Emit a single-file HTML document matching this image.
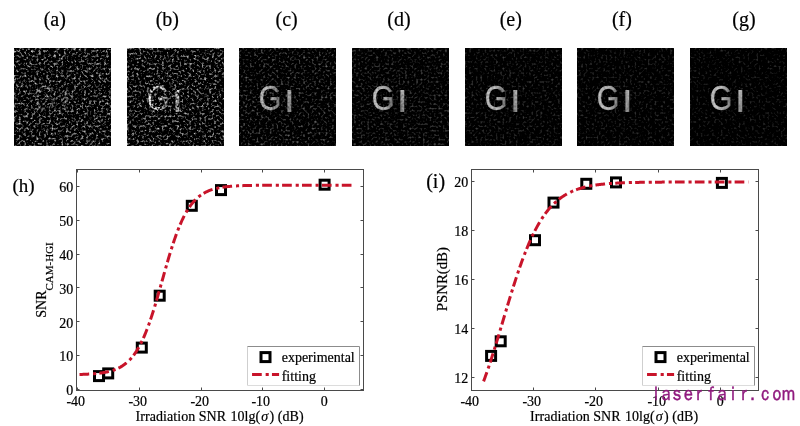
<!DOCTYPE html>
<html><head><meta charset="utf-8"><style>
html,body{margin:0;padding:0;background:#fff;}
body{width:800px;height:426px;position:relative;overflow:hidden;font-family:'Liberation Serif','Times New Roman',serif;}
.im{position:absolute;display:block;}
.lab{position:absolute;top:7px;width:60px;text-align:center;font-size:20px;line-height:24px;color:#000;-webkit-text-stroke:0.2px #000;}
.plots{position:absolute;left:0;top:0;}
</style></head><body>
<div class="lab" style="left:24.8px">(a)</div><div class="lab" style="left:137.3px">(b)</div><div class="lab" style="left:256.6px">(c)</div><div class="lab" style="left:369.0px">(d)</div><div class="lab" style="left:480.8px">(e)</div><div class="lab" style="left:591.9px">(f)</div><div class="lab" style="left:714.0px">(g)</div>
<svg class="im" style="left:14px;top:48px" width="97" height="98" viewBox="0 0 97 98">
<defs><filter id="f0" x="0" y="0" width="100%" height="100%" color-interpolation-filters="sRGB">
<feTurbulence type="fractalNoise" baseFrequency="0.4" numOctaves="2" seed="2" result="t"/>
<feColorMatrix in="t" type="matrix" values="2.2 0 0 0 -1.100  2.2 0 0 0 -1.100  2.2 0 0 0 -1.100  0 0 0 0 1"/>
<feGaussianBlur stdDeviation="0.5"/>
</filter>
<filter id="gb0" x="-20%" y="-20%" width="140%" height="140%" color-interpolation-filters="sRGB">
<feTurbulence type="fractalNoise" baseFrequency="0.45" numOctaves="1" seed="42" result="n"/>
<feColorMatrix in="n" type="matrix" values="0 0 0 0 1  0 0 0 0 1  0 0 0 0 1  3.0 0 0 0 -1.3" result="na"/>
<feComposite in="SourceGraphic" in2="na" operator="in"/>
<feGaussianBlur stdDeviation="0.7"/></filter>
<linearGradient id="li0" x1="0" x2="0" y1="0" y2="1"><stop offset="0" stop-color="rgb(178,178,178)"/><stop offset="1" stop-color="rgb(123,123,123)"/></linearGradient>
<linearGradient id="lg0" x1="0" x2="1" y1="0" y2="0"><stop offset="0" stop-color="rgb(178,178,178)"/><stop offset="0.5" stop-color="rgb(178,178,178)"/><stop offset="1" stop-color="rgb(103,103,103)"/></linearGradient>
</defs>
<rect width="97" height="98" fill="#000"/><rect width="97" height="98" filter="url(#f0)"/>
<g filter="url(#gb0)" font-family="'Liberation Sans',Arial,sans-serif"><text x="31" y="62.2" font-size="35" fill="url(#lg0)" stroke="url(#lg0)" stroke-width="0.3" text-anchor="middle" transform="translate(31 0) scale(0.83 1) translate(-31 0)">G</text><text x="50.4" y="63.3" font-size="30" fill="url(#li0)" stroke="url(#li0)" stroke-width="2" text-anchor="middle" transform="translate(50.4 0) scale(0.8 1) translate(-50.4 0)">I</text></g>
</svg><svg class="im" style="left:127px;top:48px" width="97" height="98" viewBox="0 0 97 98">
<defs><filter id="f1" x="0" y="0" width="100%" height="100%" color-interpolation-filters="sRGB">
<feTurbulence type="fractalNoise" baseFrequency="0.4" numOctaves="2" seed="5" result="t"/>
<feColorMatrix in="t" type="matrix" values="2.2 0 0 0 -1.122  2.2 0 0 0 -1.122  2.2 0 0 0 -1.122  0 0 0 0 1"/>
<feGaussianBlur stdDeviation="0.5"/>
</filter>
<filter id="gb1" x="-20%" y="-20%" width="140%" height="140%" color-interpolation-filters="sRGB">
<feTurbulence type="fractalNoise" baseFrequency="0.45" numOctaves="1" seed="45" result="n"/>
<feColorMatrix in="n" type="matrix" values="0 0 0 0 1  0 0 0 0 1  0 0 0 0 1  3.5 0 0 0 -1.15" result="na"/>
<feComposite in="SourceGraphic" in2="na" operator="in"/>
<feGaussianBlur stdDeviation="0.7"/></filter>
<linearGradient id="li1" x1="0" x2="0" y1="0" y2="1"><stop offset="0" stop-color="rgb(242,242,242)"/><stop offset="1" stop-color="rgb(160,160,160)"/></linearGradient>
<linearGradient id="lg1" x1="0" x2="1" y1="0" y2="0"><stop offset="0" stop-color="rgb(242,242,242)"/><stop offset="0.5" stop-color="rgb(242,242,242)"/><stop offset="1" stop-color="rgb(140,140,140)"/></linearGradient>
</defs>
<rect width="97" height="98" fill="#000"/><rect width="97" height="98" filter="url(#f1)"/>
<g filter="url(#gb1)" font-family="'Liberation Sans',Arial,sans-serif"><text x="31" y="62.2" font-size="35" fill="url(#lg1)" stroke="url(#lg1)" stroke-width="0.3" text-anchor="middle" transform="translate(31 0) scale(0.83 1) translate(-31 0)">G</text><text x="50.4" y="63.3" font-size="30" fill="url(#li1)" stroke="url(#li1)" stroke-width="2" text-anchor="middle" transform="translate(50.4 0) scale(0.8 1) translate(-50.4 0)">I</text></g>
</svg><svg class="im" style="left:239px;top:48px" width="97" height="98" viewBox="0 0 97 98">
<defs><filter id="f2" x="0" y="0" width="100%" height="100%" color-interpolation-filters="sRGB">
<feTurbulence type="fractalNoise" baseFrequency="0.45" numOctaves="1" seed="7" result="t"/>
<feColorMatrix in="t" type="matrix" values="1.4 0 0 0 -0.742  1.4 0 0 0 -0.742  1.4 0 0 0 -0.742  0 0 0 0 1"/>
<feGaussianBlur stdDeviation="0.6"/>
</filter>
<filter id="gb2" x="-20%" y="-20%" width="140%" height="140%" color-interpolation-filters="sRGB">
<feTurbulence type="fractalNoise" baseFrequency="0.45" numOctaves="1" seed="47" result="n"/>
<feColorMatrix in="n" type="matrix" values="0 0 0 0 1  0 0 0 0 1  0 0 0 0 1  1.2 0 0 0 0.3" result="na"/>
<feComposite in="SourceGraphic" in2="na" operator="in"/>
<feGaussianBlur stdDeviation="0.7"/></filter>
<linearGradient id="li2" x1="0" x2="0" y1="0" y2="1"><stop offset="0" stop-color="rgb(188,188,188)"/><stop offset="1" stop-color="rgb(129,129,129)"/></linearGradient>
<linearGradient id="lg2" x1="0" x2="1" y1="0" y2="0"><stop offset="0" stop-color="rgb(188,188,188)"/><stop offset="0.5" stop-color="rgb(188,188,188)"/><stop offset="1" stop-color="rgb(109,109,109)"/></linearGradient>
</defs>
<rect width="97" height="98" fill="#000"/><rect width="97" height="98" filter="url(#f2)"/>
<g filter="url(#gb2)" font-family="'Liberation Sans',Arial,sans-serif"><text x="31" y="62.2" font-size="35" fill="url(#lg2)" stroke="url(#lg2)" stroke-width="0.3" text-anchor="middle" transform="translate(31 0) scale(0.83 1) translate(-31 0)">G</text><text x="50.4" y="63.3" font-size="30" fill="url(#li2)" stroke="url(#li2)" stroke-width="2" text-anchor="middle" transform="translate(50.4 0) scale(0.8 1) translate(-50.4 0)">I</text></g>
</svg><svg class="im" style="left:352px;top:48px" width="97" height="98" viewBox="0 0 97 98">
<defs><filter id="f3" x="0" y="0" width="100%" height="100%" color-interpolation-filters="sRGB">
<feTurbulence type="fractalNoise" baseFrequency="0.45" numOctaves="1" seed="11" result="t"/>
<feColorMatrix in="t" type="matrix" values="0.95 0 0 0 -0.494  0.95 0 0 0 -0.494  0.95 0 0 0 -0.494  0 0 0 0 1"/>
<feGaussianBlur stdDeviation="0.7"/>
</filter>
<filter id="gb3" x="-20%" y="-20%" width="140%" height="140%" color-interpolation-filters="sRGB">
<feTurbulence type="fractalNoise" baseFrequency="0.45" numOctaves="1" seed="51" result="n"/>
<feColorMatrix in="n" type="matrix" values="0 0 0 0 1  0 0 0 0 1  0 0 0 0 1  0.9 0 0 0 0.45" result="na"/>
<feComposite in="SourceGraphic" in2="na" operator="in"/>
<feGaussianBlur stdDeviation="0.7"/></filter>
<linearGradient id="li3" x1="0" x2="0" y1="0" y2="1"><stop offset="0" stop-color="rgb(193,193,193)"/><stop offset="1" stop-color="rgb(132,132,132)"/></linearGradient>
<linearGradient id="lg3" x1="0" x2="1" y1="0" y2="0"><stop offset="0" stop-color="rgb(193,193,193)"/><stop offset="0.5" stop-color="rgb(193,193,193)"/><stop offset="1" stop-color="rgb(112,112,112)"/></linearGradient>
</defs>
<rect width="97" height="98" fill="#000"/><rect width="97" height="98" filter="url(#f3)"/>
<g filter="url(#gb3)" font-family="'Liberation Sans',Arial,sans-serif"><text x="31" y="62.2" font-size="35" fill="url(#lg3)" stroke="url(#lg3)" stroke-width="0.3" text-anchor="middle" transform="translate(31 0) scale(0.83 1) translate(-31 0)">G</text><text x="50.4" y="63.3" font-size="30" fill="url(#li3)" stroke="url(#li3)" stroke-width="2" text-anchor="middle" transform="translate(50.4 0) scale(0.8 1) translate(-50.4 0)">I</text></g>
</svg><svg class="im" style="left:465px;top:48px" width="97" height="98" viewBox="0 0 97 98">
<defs><filter id="f4" x="0" y="0" width="100%" height="100%" color-interpolation-filters="sRGB">
<feTurbulence type="fractalNoise" baseFrequency="0.45" numOctaves="1" seed="13" result="t"/>
<feColorMatrix in="t" type="matrix" values="0.8 0 0 0 -0.424  0.8 0 0 0 -0.424  0.8 0 0 0 -0.424  0 0 0 0 1"/>
<feGaussianBlur stdDeviation="0.7"/>
</filter>
<filter id="gb4" x="-20%" y="-20%" width="140%" height="140%" color-interpolation-filters="sRGB">
<feTurbulence type="fractalNoise" baseFrequency="0.45" numOctaves="1" seed="53" result="n"/>
<feColorMatrix in="n" type="matrix" values="0 0 0 0 1  0 0 0 0 1  0 0 0 0 1  0.6 0 0 0 0.6" result="na"/>
<feComposite in="SourceGraphic" in2="na" operator="in"/>
<feGaussianBlur stdDeviation="0.7"/></filter>
<linearGradient id="li4" x1="0" x2="0" y1="0" y2="1"><stop offset="0" stop-color="rgb(196,196,196)"/><stop offset="1" stop-color="rgb(133,133,133)"/></linearGradient>
<linearGradient id="lg4" x1="0" x2="1" y1="0" y2="0"><stop offset="0" stop-color="rgb(196,196,196)"/><stop offset="0.5" stop-color="rgb(196,196,196)"/><stop offset="1" stop-color="rgb(113,113,113)"/></linearGradient>
</defs>
<rect width="97" height="98" fill="#000"/><rect width="97" height="98" filter="url(#f4)"/>
<g filter="url(#gb4)" font-family="'Liberation Sans',Arial,sans-serif"><text x="31" y="62.2" font-size="35" fill="url(#lg4)" stroke="url(#lg4)" stroke-width="0.3" text-anchor="middle" transform="translate(31 0) scale(0.83 1) translate(-31 0)">G</text><text x="50.4" y="63.3" font-size="30" fill="url(#li4)" stroke="url(#li4)" stroke-width="2" text-anchor="middle" transform="translate(50.4 0) scale(0.8 1) translate(-50.4 0)">I</text></g>
</svg><svg class="im" style="left:577px;top:48px" width="97" height="98" viewBox="0 0 97 98">
<defs><filter id="f5" x="0" y="0" width="100%" height="100%" color-interpolation-filters="sRGB">
<feTurbulence type="fractalNoise" baseFrequency="0.45" numOctaves="1" seed="17" result="t"/>
<feColorMatrix in="t" type="matrix" values="0.75 0 0 0 -0.405  0.75 0 0 0 -0.405  0.75 0 0 0 -0.405  0 0 0 0 1"/>
<feGaussianBlur stdDeviation="0.7"/>
</filter>
<filter id="gb5" x="-20%" y="-20%" width="140%" height="140%" color-interpolation-filters="sRGB">
<feTurbulence type="fractalNoise" baseFrequency="0.45" numOctaves="1" seed="57" result="n"/>
<feColorMatrix in="n" type="matrix" values="0 0 0 0 1  0 0 0 0 1  0 0 0 0 1  0.5 0 0 0 0.65" result="na"/>
<feComposite in="SourceGraphic" in2="na" operator="in"/>
<feGaussianBlur stdDeviation="0.7"/></filter>
<linearGradient id="li5" x1="0" x2="0" y1="0" y2="1"><stop offset="0" stop-color="rgb(198,198,198)"/><stop offset="1" stop-color="rgb(135,135,135)"/></linearGradient>
<linearGradient id="lg5" x1="0" x2="1" y1="0" y2="0"><stop offset="0" stop-color="rgb(198,198,198)"/><stop offset="0.5" stop-color="rgb(198,198,198)"/><stop offset="1" stop-color="rgb(115,115,115)"/></linearGradient>
</defs>
<rect width="97" height="98" fill="#000"/><rect width="97" height="98" filter="url(#f5)"/>
<g filter="url(#gb5)" font-family="'Liberation Sans',Arial,sans-serif"><text x="31" y="62.2" font-size="35" fill="url(#lg5)" stroke="url(#lg5)" stroke-width="0.3" text-anchor="middle" transform="translate(31 0) scale(0.83 1) translate(-31 0)">G</text><text x="50.4" y="63.3" font-size="30" fill="url(#li5)" stroke="url(#li5)" stroke-width="2" text-anchor="middle" transform="translate(50.4 0) scale(0.8 1) translate(-50.4 0)">I</text></g>
</svg><svg class="im" style="left:690px;top:48px" width="97" height="98" viewBox="0 0 97 98">
<defs><filter id="f6" x="0" y="0" width="100%" height="100%" color-interpolation-filters="sRGB">
<feTurbulence type="fractalNoise" baseFrequency="0.45" numOctaves="1" seed="19" result="t"/>
<feColorMatrix in="t" type="matrix" values="0.7 0 0 0 -0.385  0.7 0 0 0 -0.385  0.7 0 0 0 -0.385  0 0 0 0 1"/>
<feGaussianBlur stdDeviation="0.7"/>
</filter>
<filter id="gb6" x="-20%" y="-20%" width="140%" height="140%" color-interpolation-filters="sRGB">
<feTurbulence type="fractalNoise" baseFrequency="0.45" numOctaves="1" seed="59" result="n"/>
<feColorMatrix in="n" type="matrix" values="0 0 0 0 1  0 0 0 0 1  0 0 0 0 1  0.4 0 0 0 0.7" result="na"/>
<feComposite in="SourceGraphic" in2="na" operator="in"/>
<feGaussianBlur stdDeviation="0.7"/></filter>
<linearGradient id="li6" x1="0" x2="0" y1="0" y2="1"><stop offset="0" stop-color="rgb(204,204,204)"/><stop offset="1" stop-color="rgb(138,138,138)"/></linearGradient>
<linearGradient id="lg6" x1="0" x2="1" y1="0" y2="0"><stop offset="0" stop-color="rgb(204,204,204)"/><stop offset="0.5" stop-color="rgb(204,204,204)"/><stop offset="1" stop-color="rgb(118,118,118)"/></linearGradient>
</defs>
<rect width="97" height="98" fill="#000"/><rect width="97" height="98" filter="url(#f6)"/>
<g filter="url(#gb6)" font-family="'Liberation Sans',Arial,sans-serif"><text x="31" y="62.2" font-size="35" fill="url(#lg6)" stroke="url(#lg6)" stroke-width="0.3" text-anchor="middle" transform="translate(31 0) scale(0.83 1) translate(-31 0)">G</text><text x="50.4" y="63.3" font-size="30" fill="url(#li6)" stroke="url(#li6)" stroke-width="2" text-anchor="middle" transform="translate(50.4 0) scale(0.8 1) translate(-50.4 0)">I</text></g>
</svg>
<svg class="plots" width="800" height="426" viewBox="0 0 800 426" font-family="'Liberation Serif','Times New Roman',serif" font-size="14" fill="#000" stroke="#000" stroke-width="0.2">
<g><rect x="76.5" y="169.5" width="287.0" height="221.0" fill="none" stroke="#4a4a4a" stroke-width="1"/>
<path d="M77.5 390.5v-3M77.5 169.5v3M139.5 390.5v-3M139.5 169.5v3M201.5 390.5v-3M201.5 169.5v3M262.5 390.5v-3M262.5 169.5v3M324.5 390.5v-3M324.5 169.5v3M76.5 389.5h3M363.5 389.5h-3M76.5 355.5h3M363.5 355.5h-3M76.5 321.5h3M363.5 321.5h-3M76.5 287.5h3M363.5 287.5h-3M76.5 254.5h3M363.5 254.5h-3M76.5 220.5h3M363.5 220.5h-3M76.5 186.5h3M363.5 186.5h-3" stroke="#4a4a4a" stroke-width="1" fill="none"/>
<text x="75.8" y="406" text-anchor="middle">-40</text>
<text x="137.8" y="406" text-anchor="middle">-30</text>
<text x="199.8" y="406" text-anchor="middle">-20</text>
<text x="260.8" y="406" text-anchor="middle">-10</text>
<text x="324.2" y="406" text-anchor="middle">0</text>
<text x="73.3" y="395.3" text-anchor="end">0</text>
<text x="73.3" y="361.4" text-anchor="end">10</text>
<text x="73.3" y="327.6" text-anchor="end">20</text>
<text x="73.3" y="293.8" text-anchor="end">30</text>
<text x="73.3" y="259.9" text-anchor="end">40</text>
<text x="73.3" y="226.1" text-anchor="end">50</text>
<text x="73.3" y="192.2" text-anchor="end">60</text>
<rect x="94.5" y="371.6" width="9" height="9" fill="none" stroke="#000" stroke-width="3"/>
<rect x="103.7" y="368.9" width="9" height="9" fill="none" stroke="#000" stroke-width="3"/>
<rect x="137.3" y="343.1" width="9" height="9" fill="none" stroke="#000" stroke-width="3"/>
<rect x="155.2" y="291.2" width="9" height="9" fill="none" stroke="#000" stroke-width="3"/>
<rect x="187.3" y="201.3" width="9" height="9" fill="none" stroke="#000" stroke-width="3"/>
<rect x="216.5" y="185.6" width="9" height="9" fill="none" stroke="#000" stroke-width="3"/>
<rect x="320.1" y="180.2" width="9" height="9" fill="none" stroke="#000" stroke-width="3"/>
<path d="M79.50 374.48 L80.19 374.46 L80.88 374.44 L81.57 374.41 L82.26 374.39 L82.95 374.37 L83.64 374.34 L84.32 374.31 L85.01 374.29 L85.70 374.26 L86.39 374.22 L87.08 374.19 L87.77 374.16 L88.46 374.12 L89.15 374.08 L89.84 374.04 L90.53 374.00 L91.22 373.95 L91.91 373.90 L92.60 373.85 L93.28 373.80 L93.97 373.75 L94.66 373.69 L95.35 373.63 L96.04 373.56 L96.73 373.49 L97.42 373.42 L98.11 373.35 L98.80 373.27 L99.49 373.18 L100.18 373.10 L100.87 373.00 L101.56 372.91 L102.24 372.80 L102.93 372.70 L103.62 372.58 L104.31 372.46 L105.00 372.34 L105.69 372.21 L106.38 372.07 L107.07 371.92 L107.76 371.77 L108.45 371.61 L109.14 371.44 L109.83 371.26 L110.52 371.07 L111.20 370.88 L111.89 370.67 L112.58 370.45 L113.27 370.23 L113.96 369.99 L114.65 369.74 L115.34 369.47 L116.03 369.19 L116.72 368.90 L117.41 368.60 L118.10 368.27 L118.79 367.94 L119.47 367.58 L120.16 367.21 L120.85 366.82 L121.54 366.42 L122.23 365.99 L122.92 365.54 L123.61 365.07 L124.30 364.58 L124.99 364.06 L125.68 363.52 L126.37 362.96 L127.06 362.37 L127.75 361.75 L128.43 361.10 L129.12 360.43 L129.81 359.72 L130.50 358.99 L131.19 358.22 L131.88 357.41 L132.57 356.58 L133.26 355.70 L133.95 354.79 L134.64 353.84 L135.33 352.85 L136.02 351.83 L136.71 350.76 L137.39 349.65 L138.08 348.49 L138.77 347.29 L139.46 346.05 L140.15 344.76 L140.84 343.43 L141.53 342.04 L142.22 340.61 L142.91 339.14 L143.60 337.61 L144.29 336.03 L144.98 334.41 L145.67 332.74 L146.35 331.02 L147.04 329.24 L147.73 327.43 L148.42 325.56 L149.11 323.64 L149.80 321.68 L150.49 319.68 L151.18 317.63 L151.87 315.54 L152.56 313.41 L153.25 311.23 L153.94 309.03 L154.63 306.78 L155.31 304.50 L156.00 302.20 L156.69 299.86 L157.38 297.50 L158.07 295.11 L158.76 292.71 L159.45 290.29 L160.14 287.85 L160.83 285.41 L161.52 282.96 L162.21 280.50 L162.90 278.04 L163.59 275.59 L164.27 273.14 L164.96 270.70 L165.65 268.28 L166.34 265.86 L167.03 263.47 L167.72 261.10 L168.41 258.76 L169.10 256.44 L169.79 254.15 L170.48 251.89 L171.17 249.67 L171.86 247.48 L172.55 245.33 L173.23 243.22 L173.92 241.16 L174.61 239.14 L175.30 237.16 L175.99 235.23 L176.68 233.34 L177.37 231.50 L178.06 229.71 L178.75 227.97 L179.44 226.28 L180.13 224.64 L180.82 223.04 L181.51 221.50 L182.19 220.00 L182.88 218.55 L183.57 217.15 L184.26 215.80 L184.95 214.49 L185.64 213.23 L186.33 212.02 L187.02 210.84 L187.71 209.72 L188.40 208.63 L189.09 207.59 L189.78 206.59 L190.46 205.62 L191.15 204.70 L191.84 203.81 L192.53 202.96 L193.22 202.14 L193.91 201.36 L194.60 200.61 L195.29 199.89 L195.98 199.20 L196.67 198.55 L197.36 197.92 L198.05 197.32 L198.74 196.74 L199.42 196.19 L200.11 195.67 L200.80 195.17 L201.49 194.69 L202.18 194.23 L202.87 193.80 L203.56 193.38 L204.25 192.98 L204.94 192.61 L205.63 192.25 L206.32 191.90 L207.01 191.58 L207.70 191.26 L208.38 190.97 L209.07 190.68 L209.76 190.42 L210.45 190.16 L211.14 189.91 L211.83 189.68 L212.52 189.46 L213.21 189.25 L213.90 189.05 L214.59 188.86 L215.28 188.68 L215.97 188.51 L216.66 188.34 L217.34 188.19 L218.03 188.04 L218.72 187.90 L219.41 187.76 L220.10 187.63 L220.79 187.51 L221.48 187.40 L222.17 187.29 L222.86 187.18 L223.55 187.08 L224.24 186.99 L224.93 186.90 L225.62 186.81 L226.30 186.73 L226.99 186.66 L227.68 186.58 L228.37 186.51 L229.06 186.45 L229.75 186.39 L230.44 186.33 L231.13 186.27 L231.82 186.22 L232.51 186.16 L233.20 186.12 L233.89 186.07 L234.58 186.03 L235.26 185.99 L235.95 185.95 L236.64 185.91 L237.33 185.87 L238.02 185.84 L238.71 185.81 L239.40 185.78 L240.09 185.75 L240.78 185.72 L241.47 185.69 L242.16 185.67 L242.85 185.64 L243.54 185.62 L244.22 185.60 L244.91 185.58 L245.60 185.56 L246.29 185.54 L246.98 185.53 L247.67 185.51 L248.36 185.49 L249.05 185.48 L249.74 185.47 L250.43 185.45 L251.12 185.44 L251.81 185.43 L252.49 185.42 L253.18 185.40 L253.87 185.39 L254.56 185.38 L255.25 185.38 L255.94 185.37 L256.63 185.36 L257.32 185.35 L258.01 185.34 L258.70 185.34 L259.39 185.33 L260.08 185.32 L260.77 185.32 L261.45 185.31 L262.14 185.30 L262.83 185.30 L263.52 185.29 L264.21 185.29 L264.90 185.28 L265.59 185.28 L266.28 185.28 L266.97 185.27 L267.66 185.27 L268.35 185.27 L269.04 185.26 L269.73 185.26 L270.41 185.26 L271.10 185.25 L271.79 185.25 L272.48 185.25 L273.17 185.25 L273.86 185.24 L274.55 185.24 L275.24 185.24 L275.93 185.24 L276.62 185.24 L277.31 185.23 L278.00 185.23 L278.69 185.23 L279.37 185.23 L280.06 185.23 L280.75 185.23 L281.44 185.22 L282.13 185.22 L282.82 185.22 L283.51 185.22 L284.20 185.22 L284.89 185.22 L285.58 185.22 L286.27 185.22 L286.96 185.22 L287.65 185.22 L288.33 185.21 L289.02 185.21 L289.71 185.21 L290.40 185.21 L291.09 185.21 L291.78 185.21 L292.47 185.21 L293.16 185.21 L293.85 185.21 L294.54 185.21 L295.23 185.21 L295.92 185.21 L296.61 185.21 L297.29 185.21 L297.98 185.21 L298.67 185.21 L299.36 185.21 L300.05 185.21 L300.74 185.21 L301.43 185.21 L302.12 185.21 L302.81 185.20 L303.50 185.20 L304.19 185.20 L304.88 185.20 L305.57 185.20 L306.25 185.20 L306.94 185.20 L307.63 185.20 L308.32 185.20 L309.01 185.20 L309.70 185.20 L310.39 185.20 L311.08 185.20 L311.77 185.20 L312.46 185.20 L313.15 185.20 L313.84 185.20 L314.53 185.20 L315.21 185.20 L315.90 185.20 L316.59 185.20 L317.28 185.20 L317.97 185.20 L318.66 185.20 L319.35 185.20 L320.04 185.20 L320.73 185.20 L321.42 185.20 L322.11 185.20 L322.80 185.20 L323.48 185.20 L324.17 185.20 L324.86 185.20 L325.55 185.20 L326.24 185.20 L326.93 185.20 L327.62 185.20 L328.31 185.20 L329.00 185.20 L329.69 185.20 L330.38 185.20 L331.07 185.20 L331.76 185.20 L332.44 185.20 L333.13 185.20 L333.82 185.20 L334.51 185.20 L335.20 185.20 L335.89 185.20 L336.58 185.20 L337.27 185.20 L337.96 185.20 L338.65 185.20 L339.34 185.20 L340.03 185.20 L340.72 185.20 L341.40 185.20 L342.09 185.20 L342.78 185.20 L343.47 185.20 L344.16 185.20 L344.85 185.20 L345.54 185.20 L346.23 185.20 L346.92 185.20 L347.61 185.20 L348.30 185.20 L348.99 185.20 L349.68 185.20 L350.36 185.20 L351.05 185.20 L351.74 185.20 L352.43 185.20 L353.12 185.20 L353.81 185.20 L354.50 185.20" fill="none" stroke="#c8142a" stroke-width="3" stroke-dasharray="9.7 3.9 3.1 3.2"/>
<rect x="247.5" y="346.5" width="112.0" height="39.0" fill="#fff" stroke="none"/>
<path d="M247.5 385.5V346.5" stroke="#cfcfcf" stroke-width="1" fill="none"/><path d="M247.5 385.5H359.5" stroke="#dcdcdc" stroke-width="1" fill="none"/><path d="M247.5 346.5H359.5V385.5" stroke="#8c8c8c" stroke-width="1" fill="none"/>
<rect x="261.0" y="352.6" width="9" height="9" fill="none" stroke="#000" stroke-width="3"/>
<path d="M252.05 374.5H279.10" stroke="#c8142a" stroke-width="3" stroke-dasharray="9.7 3.9 3.1 3.2 7.2 20"/>
<text x="281.7" y="362.1">experimental</text>
<text x="281.7" y="381.1">fitting</text>
<text x="135.6" y="421" letter-spacing="0.05">Irradiation SNR <tspan dx="0.8">10lg(</tspan><tspan dx="1" font-style="italic">σ</tspan><tspan dx="1.2">) (dB)</tspan></text></g>
<g><rect x="471.5" y="169.5" width="287.0" height="221.0" fill="none" stroke="#4a4a4a" stroke-width="1"/>
<path d="M471.5 390.5v-3M471.5 169.5v3M533.5 390.5v-3M533.5 169.5v3M595.5 390.5v-3M595.5 169.5v3M658.5 390.5v-3M658.5 169.5v3M720.5 390.5v-3M720.5 169.5v3M471.5 377.5h3M758.5 377.5h-3M471.5 328.5h3M758.5 328.5h-3M471.5 279.5h3M758.5 279.5h-3M471.5 230.5h3M758.5 230.5h-3M471.5 181.5h3M758.5 181.5h-3" stroke="#4a4a4a" stroke-width="1" fill="none"/>
<text x="469.8" y="406" text-anchor="middle">-40</text>
<text x="531.8" y="406" text-anchor="middle">-30</text>
<text x="593.8" y="406" text-anchor="middle">-20</text>
<text x="656.8" y="406" text-anchor="middle">-10</text>
<text x="720.2" y="406" text-anchor="middle">0</text>
<text x="468.3" y="383.0" text-anchor="end">12</text>
<text x="468.3" y="334.0" text-anchor="end">14</text>
<text x="468.3" y="285.0" text-anchor="end">16</text>
<text x="468.3" y="235.9" text-anchor="end">18</text>
<text x="468.3" y="186.9" text-anchor="end">20</text>
<rect x="486.6" y="351.4" width="9" height="9" fill="none" stroke="#000" stroke-width="3"/>
<rect x="496.2" y="336.8" width="9" height="9" fill="none" stroke="#000" stroke-width="3"/>
<rect x="530.5" y="235.7" width="9" height="9" fill="none" stroke="#000" stroke-width="3"/>
<rect x="549.0" y="198.1" width="9" height="9" fill="none" stroke="#000" stroke-width="3"/>
<rect x="581.8" y="179.3" width="9" height="9" fill="none" stroke="#000" stroke-width="3"/>
<rect x="611.5" y="177.9" width="9" height="9" fill="none" stroke="#000" stroke-width="3"/>
<rect x="717.4" y="178.4" width="9" height="9" fill="none" stroke="#000" stroke-width="3"/>
<path d="M483.60 381.37 L484.26 379.56 L484.93 377.73 L485.59 375.87 L486.26 373.99 L486.92 372.09 L487.58 370.16 L488.25 368.21 L488.91 366.24 L489.58 364.24 L490.24 362.23 L490.90 360.20 L491.57 358.14 L492.23 356.07 L492.89 353.99 L493.56 351.88 L494.22 349.76 L494.89 347.63 L495.55 345.48 L496.21 343.32 L496.88 341.15 L497.54 338.97 L498.21 336.77 L498.87 334.57 L499.53 332.37 L500.20 330.15 L500.86 327.93 L501.53 325.71 L502.19 323.48 L502.85 321.26 L503.52 319.03 L504.18 316.80 L504.85 314.58 L505.51 312.35 L506.17 310.13 L506.84 307.92 L507.50 305.71 L508.16 303.52 L508.83 301.32 L509.49 299.14 L510.16 296.97 L510.82 294.82 L511.48 292.67 L512.15 290.54 L512.81 288.42 L513.48 286.32 L514.14 284.23 L514.80 282.17 L515.47 280.12 L516.13 278.09 L516.80 276.08 L517.46 274.09 L518.12 272.12 L518.79 270.17 L519.45 268.25 L520.12 266.35 L520.78 264.47 L521.44 262.62 L522.11 260.79 L522.77 258.99 L523.43 257.21 L524.10 255.46 L524.76 253.74 L525.43 252.04 L526.09 250.37 L526.75 248.72 L527.42 247.11 L528.08 245.52 L528.75 243.95 L529.41 242.42 L530.07 240.91 L530.74 239.43 L531.40 237.98 L532.07 236.55 L532.73 235.16 L533.39 233.79 L534.06 232.44 L534.72 231.13 L535.38 229.84 L536.05 228.58 L536.71 227.35 L537.38 226.14 L538.04 224.96 L538.70 223.80 L539.37 222.67 L540.03 221.56 L540.70 220.48 L541.36 219.43 L542.02 218.40 L542.69 217.39 L543.35 216.41 L544.02 215.45 L544.68 214.52 L545.34 213.60 L546.01 212.71 L546.67 211.84 L547.34 211.00 L548.00 210.17 L548.66 209.37 L549.33 208.58 L549.99 207.82 L550.65 207.07 L551.32 206.35 L551.98 205.64 L552.65 204.96 L553.31 204.29 L553.97 203.64 L554.64 203.00 L555.30 202.39 L555.97 201.79 L556.63 201.20 L557.29 200.63 L557.96 200.08 L558.62 199.55 L559.29 199.02 L559.95 198.52 L560.61 198.02 L561.28 197.54 L561.94 197.08 L562.61 196.62 L563.27 196.18 L563.93 195.76 L564.60 195.34 L565.26 194.94 L565.92 194.55 L566.59 194.17 L567.25 193.80 L567.92 193.44 L568.58 193.09 L569.24 192.75 L569.91 192.43 L570.57 192.11 L571.24 191.80 L571.90 191.50 L572.56 191.21 L573.23 190.92 L573.89 190.65 L574.56 190.38 L575.22 190.13 L575.88 189.88 L576.55 189.63 L577.21 189.40 L577.88 189.17 L578.54 188.95 L579.20 188.73 L579.87 188.52 L580.53 188.32 L581.19 188.13 L581.86 187.94 L582.52 187.75 L583.19 187.57 L583.85 187.40 L584.51 187.23 L585.18 187.07 L585.84 186.91 L586.51 186.76 L587.17 186.61 L587.83 186.47 L588.50 186.33 L589.16 186.19 L589.83 186.06 L590.49 185.93 L591.15 185.81 L591.82 185.69 L592.48 185.58 L593.15 185.46 L593.81 185.36 L594.47 185.25 L595.14 185.15 L595.80 185.05 L596.46 184.95 L597.13 184.86 L597.79 184.77 L598.46 184.69 L599.12 184.60 L599.78 184.52 L600.45 184.44 L601.11 184.36 L601.78 184.29 L602.44 184.22 L603.10 184.15 L603.77 184.08 L604.43 184.01 L605.10 183.95 L605.76 183.89 L606.42 183.83 L607.09 183.77 L607.75 183.72 L608.42 183.66 L609.08 183.61 L609.74 183.56 L610.41 183.51 L611.07 183.46 L611.73 183.42 L612.40 183.37 L613.06 183.33 L613.73 183.29 L614.39 183.25 L615.05 183.21 L615.72 183.17 L616.38 183.13 L617.05 183.10 L617.71 183.06 L618.37 183.03 L619.04 183.00 L619.70 182.96 L620.37 182.93 L621.03 182.90 L621.69 182.88 L622.36 182.85 L623.02 182.82 L623.68 182.79 L624.35 182.77 L625.01 182.75 L625.68 182.72 L626.34 182.70 L627.00 182.68 L627.67 182.66 L628.33 182.63 L629.00 182.61 L629.66 182.60 L630.32 182.58 L630.99 182.56 L631.65 182.54 L632.32 182.52 L632.98 182.51 L633.64 182.49 L634.31 182.48 L634.97 182.46 L635.64 182.45 L636.30 182.43 L636.96 182.42 L637.63 182.40 L638.29 182.39 L638.95 182.38 L639.62 182.37 L640.28 182.36 L640.95 182.34 L641.61 182.33 L642.27 182.32 L642.94 182.31 L643.60 182.30 L644.27 182.29 L644.93 182.28 L645.59 182.28 L646.26 182.27 L646.92 182.26 L647.59 182.25 L648.25 182.24 L648.91 182.23 L649.58 182.23 L650.24 182.22 L650.91 182.21 L651.57 182.21 L652.23 182.20 L652.90 182.19 L653.56 182.19 L654.22 182.18 L654.89 182.18 L655.55 182.17 L656.22 182.16 L656.88 182.16 L657.54 182.15 L658.21 182.15 L658.87 182.14 L659.54 182.14 L660.20 182.14 L660.86 182.13 L661.53 182.13 L662.19 182.12 L662.86 182.12 L663.52 182.12 L664.18 182.11 L664.85 182.11 L665.51 182.10 L666.18 182.10 L666.84 182.10 L667.50 182.10 L668.17 182.09 L668.83 182.09 L669.49 182.09 L670.16 182.08 L670.82 182.08 L671.49 182.08 L672.15 182.08 L672.81 182.07 L673.48 182.07 L674.14 182.07 L674.81 182.07 L675.47 182.06 L676.13 182.06 L676.80 182.06 L677.46 182.06 L678.13 182.06 L678.79 182.05 L679.45 182.05 L680.12 182.05 L680.78 182.05 L681.45 182.05 L682.11 182.05 L682.77 182.05 L683.44 182.04 L684.10 182.04 L684.76 182.04 L685.43 182.04 L686.09 182.04 L686.76 182.04 L687.42 182.04 L688.08 182.04 L688.75 182.03 L689.41 182.03 L690.08 182.03 L690.74 182.03 L691.40 182.03 L692.07 182.03 L692.73 182.03 L693.40 182.03 L694.06 182.03 L694.72 182.03 L695.39 182.02 L696.05 182.02 L696.72 182.02 L697.38 182.02 L698.04 182.02 L698.71 182.02 L699.37 182.02 L700.03 182.02 L700.70 182.02 L701.36 182.02 L702.03 182.02 L702.69 182.02 L703.35 182.02 L704.02 182.02 L704.68 182.02 L705.35 182.02 L706.01 182.01 L706.67 182.01 L707.34 182.01 L708.00 182.01 L708.67 182.01 L709.33 182.01 L709.99 182.01 L710.66 182.01 L711.32 182.01 L711.98 182.01 L712.65 182.01 L713.31 182.01 L713.98 182.01 L714.64 182.01 L715.30 182.01 L715.97 182.01 L716.63 182.01 L717.30 182.01 L717.96 182.01 L718.62 182.01 L719.29 182.01 L719.95 182.01 L720.62 182.01 L721.28 182.01 L721.94 182.01 L722.61 182.01 L723.27 182.01 L723.94 182.01 L724.60 182.01 L725.26 182.01 L725.93 182.01 L726.59 182.01 L727.25 182.01 L727.92 182.01 L728.58 182.00 L729.25 182.00 L729.91 182.00 L730.57 182.00 L731.24 182.00 L731.90 182.00 L732.57 182.00 L733.23 182.00 L733.89 182.00 L734.56 182.00 L735.22 182.00 L735.89 182.00 L736.55 182.00 L737.21 182.00 L737.88 182.00 L738.54 182.00 L739.21 182.00 L739.87 182.00 L740.53 182.00 L741.20 182.00 L741.86 182.00 L742.52 182.00 L743.19 182.00 L743.85 182.00 L744.52 182.00 L745.18 182.00 L745.84 182.00 L746.51 182.00 L747.17 182.00 L747.84 182.00 L748.50 182.00" fill="none" stroke="#c8142a" stroke-width="3" stroke-dasharray="9.7 3.9 3.1 3.2"/>
<rect x="642.5" y="346.5" width="112.0" height="39.0" fill="#fff" stroke="none"/>
<path d="M642.5 385.5V346.5" stroke="#cfcfcf" stroke-width="1" fill="none"/><path d="M642.5 385.5H754.5" stroke="#dcdcdc" stroke-width="1" fill="none"/><path d="M642.5 346.5H754.5V385.5" stroke="#8c8c8c" stroke-width="1" fill="none"/>
<rect x="656.0" y="352.6" width="9" height="9" fill="none" stroke="#000" stroke-width="3"/>
<path d="M647.05 374.5H674.10" stroke="#c8142a" stroke-width="3" stroke-dasharray="9.7 3.9 3.1 3.2 7.2 20"/>
<text x="676.7" y="362.1">experimental</text>
<text x="676.7" y="381.1">fitting</text>
<text x="530.1" y="421" letter-spacing="0.05">Irradiation SNR <tspan dx="0.8">10lg(</tspan><tspan dx="1" font-style="italic">σ</tspan><tspan dx="1.2">) (dB)</tspan></text></g>
<text x="12.5" y="192" font-size="19">(h)</text>
<text x="426.2" y="187.6" font-size="20">(i)</text>
<text transform="translate(45.5 280) rotate(-90)" text-anchor="middle">SNR<tspan font-size="11" dy="7">CAM-HGI</tspan></text>
<text transform="translate(446.7 279.2) rotate(-90)" text-anchor="middle" font-size="14.8">PSNR(dB)</text>
</svg>
<svg class="plots" width="800" height="426" viewBox="0 0 800 426"><text transform="scale(0.85 1)" y="400.4" text-anchor="middle" x="771.88 783.53 796.47 809.88 822.35 836.47 849.41 862.35 875.29 885.29 900.35 914.00 927.65" font-family="'WenQuanYi Zen Hei','Liberation Sans',sans-serif" font-size="19.3" fill="#901a7e" stroke="#901a7e" stroke-width="0.5">laserfair.com</text></svg>
</body></html>
